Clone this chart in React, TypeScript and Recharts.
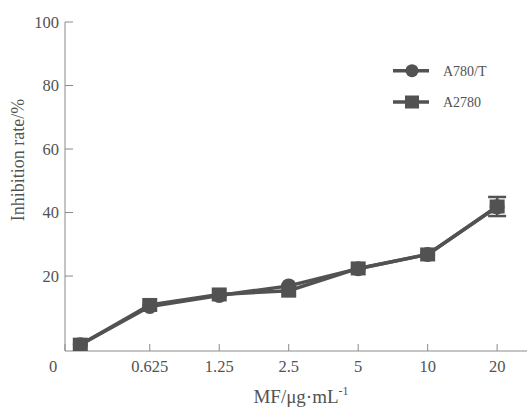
import React from 'react';
import { LineChart, Line, XAxis, YAxis, Legend, ErrorBar } from 'recharts';

const concentrations = ['0', '0.625', '1.25', '2.5', '5', '10', '20'];
const a780t = [-1.6, 10.4, 13.9, 16.9, 22.3, 26.8, 41.8];
const a2780 = [-1.6, 10.9, 14.2, 15.4, 22.4, 26.8, 41.9];
const a2780Err = [0, 0, 0, 0, 0, 0, 3];
const yTicks = [20, 40, 60, 80, 100];

const X_MIN = -0.22;
const X_MAX = 6.43;
const xTicks = [X_MIN, 1, 2, 3, 4, 5, 6];

const data = concentrations.map((c, i) => ({
  idx: i,
  label: c,
  a780t: a780t[i],
  a2780: a2780[i],
  err: a2780Err[i],
}));

const FONT = "Liberation Serif, Times New Roman, serif";
const GRAY = '#525252';
const AXIS = '#8a8a8a';

const labelFor = (v: number) => (v === X_MIN ? concentrations[0] : concentrations[v]);

const XTick = (props: any) => {
  const { x, y, payload } = props;
  const isOrigin = payload.value === X_MIN;
  return (
    <text
      x={isOrigin ? x - 12 : x}
      y={y}
      dy="0.71em"
      textAnchor="middle"
      fill={GRAY}
      fontSize={16.5}
      style={{ fontFamily: FONT }}
    >
      {labelFor(payload.value)}
    </text>
  );
};

const YTick = (props: any) => {
  const { x, y, payload } = props;
  return (
    <text x={x} y={y} dy="0.35em" textAnchor="end" fill={GRAY} fontSize={16.5} style={{ fontFamily: FONT }}>
      {payload.value}
    </text>
  );
};

const SquareDot = (p: any) => {
  if (p.cx == null || p.cy == null) return null;
  return <rect key={`s${p.index}`} x={p.cx - 7.5} y={p.cy - 7} width={15} height={14} fill={GRAY} />;
};

const CircleDot = (p: any) => {
  if (p.cx == null || p.cy == null) return null;
  return <circle key={`c${p.index}`} cx={p.cx} cy={p.cy} r={7.5} fill={GRAY} />;
};

const LegendContent = () => (
  <svg width={130} height={60} style={{ display: 'block' }}>
    <line x1={5} y1={12.7} x2={41} y2={12.7} stroke={GRAY} strokeWidth={3.5} />
    <circle cx={24} cy={12.7} r={6.5} fill={GRAY} />
    <text x={55} y={12.7} dy="0.35em" fill={GRAY} fontSize={14} style={{ fontFamily: FONT }}>
      A780/T
    </text>
    <line x1={5} y1={44} x2={41} y2={44} stroke={GRAY} strokeWidth={3.5} />
    <rect x={17} y={37.5} width={14} height={13} fill={GRAY} />
    <text x={55} y={44} dy="0.35em" fill={GRAY} fontSize={14} style={{ fontFamily: FONT }}>
      A2780
    </text>
  </svg>
);

export default function App() {
  return (
    <LineChart
      width={529}
      height={410}
      data={data}
      margin={{ top: 22, right: 2, bottom: 0, left: 0 }}
      style={{ position: 'absolute', left: 0, top: 0 }}
    >
      <XAxis
        dataKey="idx"
        type="number"
        domain={[X_MIN, X_MAX]}
        ticks={xTicks}
        allowDataOverflow
        height={59}
        stroke={AXIS}
        tickSize={-7}
        tickMargin={16}
        tick={<XTick />}
        label={{
          content: () => (
            <text x={301} y={403} textAnchor="middle" fill={GRAY} fontSize={19} style={{ fontFamily: FONT }}>
              MF/μg·mL
              <tspan fontSize={12} dy={-8}>-1</tspan>
            </text>
          ),
        }}
      />
      <YAxis
        type="number"
        domain={[-3.6, 100]}
        ticks={yTicks}
        allowDataOverflow
        width={65}
        stroke={AXIS}
        tickSize={-8}
        tickMargin={14}
        tick={<YTick />}
        label={{
          content: () => (
            <text
              x={18}
              y={160}
              transform="rotate(-90, 18, 160)"
              textAnchor="middle"
              dy="0.35em"
              fill={GRAY}
              fontSize={18}
              style={{ fontFamily: FONT }}
            >
              Inhibition rate/%
            </text>
          ),
        }}
      />
      <Legend
        layout="vertical"
        align="center"
        verticalAlign="middle"
        content={<LegendContent />}
        wrapperStyle={{ position: 'absolute', top: 58, left: 388, width: 130, height: 60 }}
      />
      <Line
        dataKey="a780t"
        name="A780/T"
        stroke={GRAY}
        strokeWidth={3.5}
        dot={CircleDot}
        activeDot={false}
        isAnimationActive={false}
      />
      <Line
        dataKey="a2780"
        name="A2780"
        stroke={GRAY}
        strokeWidth={3.5}
        dot={SquareDot}
        activeDot={false}
        isAnimationActive={false}
      >
        <ErrorBar dataKey="err" width={9} stroke={GRAY} strokeWidth={2.5} direction="y" />
      </Line>
    </LineChart>
  );
}
